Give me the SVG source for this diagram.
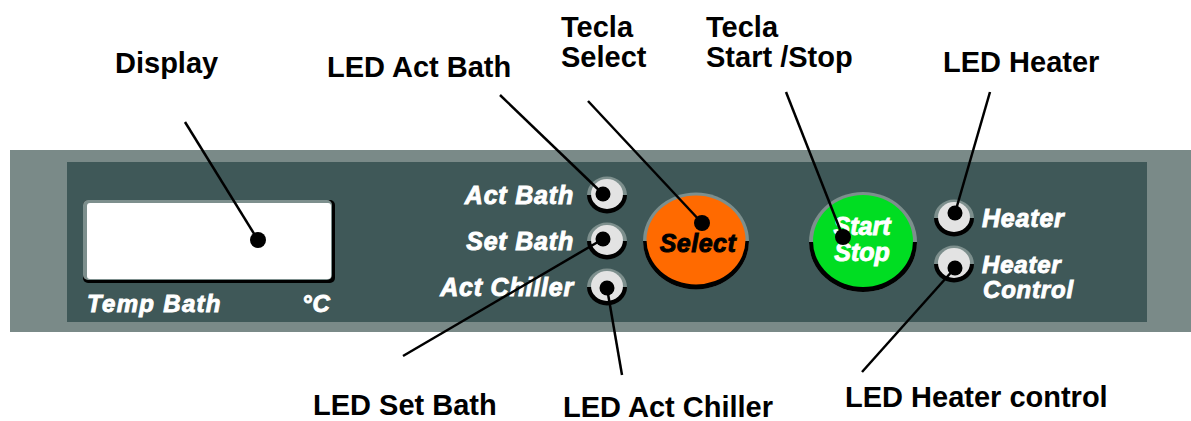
<svg xmlns="http://www.w3.org/2000/svg" width="1191" height="421" viewBox="0 0 1191 421">
<style>
.lbl{font-family:"Liberation Sans",Arial,sans-serif;font-weight:bold;font-size:29px;fill:#000}
.pt{font-family:"Liberation Sans",Arial,sans-serif;font-weight:bold;font-style:italic;font-size:25px;fill:#fff;stroke:#fff;stroke-width:0.9;letter-spacing:0.8px}
.btn{font-family:"Liberation Sans",Arial,sans-serif;font-weight:bold;font-style:italic;font-size:25px}
.conn{stroke:#000;stroke-width:2.5;fill:none}
.dot{fill:#000}
.ringtop{fill:#7d8f8d}
.ringbot{fill:#000}
.ledin{fill:#e3e3e3}
</style>
<defs>
<clipPath id="ctop"><rect x="-60" y="-60" width="120" height="60"/></clipPath>
<clipPath id="cbot"><rect x="-60" y="0" width="120" height="60"/></clipPath>
<g id="led">
<ellipse class="ringtop" rx="20" ry="18.5" clip-path="url(#ctop)"/>
<ellipse class="ringbot" rx="20" ry="18.5" clip-path="url(#cbot)"/>
<ellipse class="ledin" cx="0" cy="-1" rx="16" ry="15"/>
</g>
</defs>
<rect width="1191" height="421" fill="#fff"/>
<g id="panel">
<rect x="10" y="150" width="1181" height="182" fill="#7a8a88"/>
<rect x="67" y="162" width="1080" height="160" fill="#3f5858"/>
</g>
<g id="display">
<rect x="83" y="200" width="252" height="83" rx="5" fill="#000"/>
<rect x="83" y="200" width="249" height="80" rx="5" fill="#7d8f8d"/>
<rect x="87" y="203" width="244" height="76" rx="3" fill="#fff"/>
<text class="pt" x="87" y="312" style="font-size:24px;letter-spacing:1.3px">Temp Bath</text>
<text class="pt" x="302" y="312" style="font-size:24px">°C</text>
</g>
<g id="led-act-bath">
<use href="#led" x="607" y="195"/>
<text class="pt" x="574" y="204" text-anchor="end">Act Bath</text>
</g>
<g id="led-set-bath">
<use href="#led" x="607" y="241"/>
<text class="pt" x="574" y="250" text-anchor="end">Set Bath</text>
</g>
<g id="led-act-chiller">
<use href="#led" x="607" y="287"/>
<text class="pt" x="574" y="296" text-anchor="end">Act Chiller</text>
</g>
<g id="select">
<ellipse cx="696" cy="241" rx="53" ry="48.5" fill="#7d8f8d"/>
<path d="M643,241 A53,48.5 0 0 0 749,241 Z" fill="#000"/>
<ellipse cx="696" cy="240" rx="49.5" ry="44.5" fill="#ff6a00"/>
<text class="btn" x="698" y="252" text-anchor="middle" font-size="27" letter-spacing="0.5" fill="#000" stroke="#000" stroke-width="0.9">Select</text>
</g>
<g id="start-stop">
<ellipse cx="863" cy="242" rx="54" ry="50" fill="#7d8f8d"/>
<path d="M809,242 A54,50 0 0 0 917,242 Z" fill="#000"/>
<ellipse cx="863" cy="241" rx="50" ry="46" fill="#00dd22"/>
<text class="btn" x="862" y="235" text-anchor="middle" fill="#fff" stroke="#fff" stroke-width="0.9">Start</text>
<text class="btn" x="862" y="261" text-anchor="middle" fill="#fff" stroke="#fff" stroke-width="0.9">Stop</text>
</g>
<g id="led-heater">
<use href="#led" x="954" y="218"/>
<text class="pt" x="982" y="227">Heater</text>
</g>
<g id="led-heater-control">
<use href="#led" x="954" y="264"/>
<text class="pt" x="982" y="273" style="font-size:24px">Heater</text>
<text class="pt" x="983" y="298" style="font-size:24px">Control</text>
</g>
<g id="labels">
<text class="lbl" x="115" y="73">Display</text>
<text class="lbl" x="327" y="77">LED Act Bath</text>
<text class="lbl" x="561" y="37">Tecla</text>
<text class="lbl" x="561" y="67">Select</text>
<text class="lbl" x="706" y="37">Tecla</text>
<text class="lbl" x="706" y="67">Start /Stop</text>
<text class="lbl" x="943" y="72">LED Heater</text>
<text class="lbl" x="313" y="415">LED Set Bath</text>
<text class="lbl" x="563" y="417">LED Act Chiller</text>
<text class="lbl" x="845" y="407">LED Heater control</text>
</g>
<g id="connectors">
<line class="conn" x1="185" y1="122" x2="258" y2="240"/>
<line class="conn" x1="500" y1="95" x2="603" y2="194"/>
<line class="conn" x1="588" y1="101" x2="702" y2="223"/>
<line class="conn" x1="786" y1="92" x2="843" y2="237"/>
<line class="conn" x1="990" y1="92" x2="955" y2="213"/>
<line class="conn" x1="403" y1="356" x2="603" y2="239"/>
<line class="conn" x1="622" y1="375" x2="607" y2="288"/>
<line class="conn" x1="862" y1="372" x2="955" y2="268"/>
<circle class="dot" cx="258" cy="240" r="8"/>
<circle class="dot" cx="603" cy="194" r="7.5"/>
<circle class="dot" cx="603" cy="239" r="7.5"/>
<circle class="dot" cx="607" cy="288" r="7.5"/>
<circle class="dot" cx="702" cy="223" r="8"/>
<circle class="dot" cx="843" cy="237" r="8"/>
<circle class="dot" cx="955" cy="213" r="7.5"/>
<circle class="dot" cx="955" cy="268" r="7.5"/>
</g>
</svg>
